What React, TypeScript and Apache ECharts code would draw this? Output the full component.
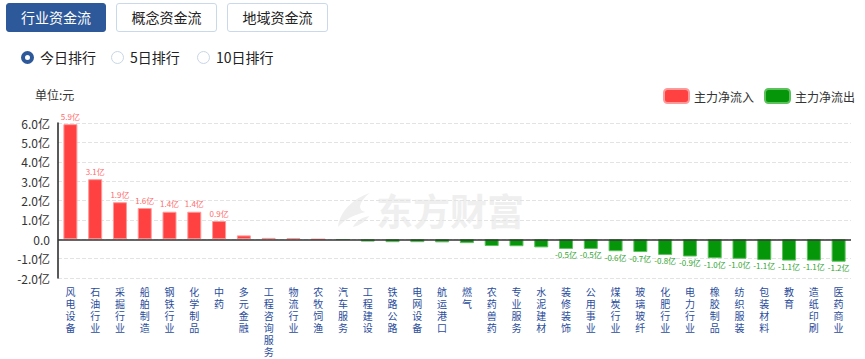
import React, { useEffect, useRef } from "react";
import * as echarts from "echarts";

const categories = [
  "风电设备", "石油行业", "采掘行业", "船舶制造", "钢铁行业", "化学制品", "中药", "多元金融",
  "工程咨询服务", "物流行业", "农牧饲渔", "汽车服务", "工程建设", "铁路公路", "电网设备", "航运港口",
  "燃气", "农药兽药", "专业服务", "水泥建材", "装修装饰", "公用事业", "煤炭行业", "玻璃玻纤",
  "化肥行业", "电力行业", "橡胶制品", "纺织服装", "包装材料", "教育", "造纸印刷", "医药商业",
];
const values = [
  5.94, 3.1, 1.91, 1.61, 1.42, 1.42, 0.94, 0.2, 0.07, 0.06, 0.0, -0.03, -0.12, -0.15, -0.15, -0.16,
  -0.2, -0.35, -0.36, -0.42, -0.5, -0.5, -0.62, -0.66, -0.81, -0.89, -0.98, -1.01, -1.07, -1.1, -1.1, -1.16,
];
const yTicks = { min: -2, max: 6, interval: 1 };
const tabs = ["行业资金流", "概念资金流", "地域资金流"];
const ranks = ["今日排行", "5日排行", "10日排行"];

const FONT = '"Noto Sans CJK SC", "Microsoft YaHei", sans-serif';
const RED = "#ff4141";
const GREEN = "#06960a";

function Chart() {
  const ref = useRef<HTMLDivElement>(null);
  useEffect(() => {
    if (!ref.current) return;
    const chart = echarts.init(ref.current, undefined, { renderer: "svg" });
    echarts.graphic.registerShape(
      "dfcfLogo",
      echarts.graphic.extendPath(
        "M30 0 C14 6 2 18 0 34 C6 27 14 22 26 19 C18 17 20 9 30 0 Z M14 34 C18 27 24 24 30 23 C26 28 22 32 14 34 Z",
        {}
      )
    );
    const inData = values.map((v) => (v >= 0 ? v : "-"));
    const outData = values.map((v) => (v < 0 ? v : "-"));
    const labelFmt = (p: any) => (Math.abs(p.value) >= 0.45 ? p.value.toFixed(1) + "亿" : "");
    chart.setOption({
      animation: false,
      textStyle: { fontFamily: FONT },
      grid: { left: 58, right: 14, top: 123, bottom: 81 },
      legend: {
        right: 10,
        top: 88,
        padding: 0,
        itemWidth: 25,
        itemHeight: 14,
        itemGap: 10,
        textStyle: { fontSize: 12, color: "#333", fontFamily: FONT },
        data: ["主力净流入", "主力净流出"],
      },
      graphic: [
        {
          type: "text",
          left: 35,
          top: 88,
          style: { text: "单位:元", fill: "#333", font: `12px ${FONT}` },
        },
        {
          type: "dfcfLogo",
          x: 338,
          y: 193,
          scaleX: 1.05,
          scaleY: 1.0,
          z: -1,
          style: { fill: "#efefef" },
        },
        {
          type: "text",
          x: 376,
          y: 191,
          z: -1,
          style: { text: "东方财富", fill: "#efefef", font: `bold 37px ${FONT}` },
        },
      ],
      xAxis: {
        type: "category",
        data: categories,
        axisLine: { show: false },
        axisTick: { show: false },
        axisLabel: {
          interval: 0,
          margin: 7,
          fontSize: 10,
          lineHeight: 12,
          color: "#2a4d9b",
          verticalAlign: "top",
          formatter: (s: string) => s.split("").join("\n"),
        },
      },
      yAxis: {
        type: "value",
        min: yTicks.min,
        max: yTicks.max,
        interval: yTicks.interval,
        axisLine: { show: true, lineStyle: { color: "#222", width: 1.5 } },
        axisTick: { show: false },
        axisLabel: {
          fontSize: 12,
          color: "#333",
          margin: 8,
          formatter: (v: number) => (v === 0 ? "0.0" : v.toFixed(1) + "亿"),
        },
        splitLine: { show: true, lineStyle: { color: "#e3e3e3", type: "dashed" } },
      },
      series: [
        {
          name: "主力净流入",
          type: "bar",
          data: inData,
          barWidth: 14,
          barGap: "-100%",
          itemStyle: { color: RED, borderColor: "#ff9a9a", borderWidth: 1 },
          label: {
            show: true,
            position: "top",
            distance: 4,
            fontSize: 8,
            color: "#ff6b6b",
            formatter: labelFmt,
          },
          markLine: {
            silent: true,
            symbol: "none",
            label: { show: false },
            lineStyle: { color: "#333", type: "solid", width: 1.5 },
            data: [{ yAxis: 0 }],
          },
        },
        {
          name: "主力净流出",
          type: "bar",
          data: outData,
          barWidth: 14,
          barGap: "-100%",
          itemStyle: { color: GREEN, borderColor: "#5cc05c", borderWidth: 1 },
          label: {
            show: true,
            position: "bottom",
            distance: 2,
            fontSize: 8,
            color: "#30a530",
            formatter: labelFmt,
          },
        },
      ],
    });
    return () => chart.dispose();
  }, []);
  return <div ref={ref} style={{ position: "absolute", left: 0, top: 0, width: 865, height: 359 }} />;
}

export default function App() {
  const tabLeft = [6, 116, 227];
  const radioX = [28, 118, 204];
  return (
    <div style={{ position: "absolute", left: 0, top: 0, width: 865, height: 359, background: "#fff", fontFamily: FONT, overflow: "hidden" }}>
      <Chart />
      {tabs.map((t, i) => (
        <div
          key={t}
          style={{
            position: "absolute",
            left: tabLeft[i],
            top: 3,
            width: i === 0 ? 100 : 101,
            height: 29,
            boxSizing: "border-box",
            borderRadius: 3,
            border: i === 0 ? "1px solid #2d5899" : "1px solid #c9d9ea",
            background: i === 0 ? "#2d5899" : "#fff",
            color: i === 0 ? "#fff" : "#222",
            fontSize: 14,
            lineHeight: "27px",
            textAlign: "center",
          }}
        >
          {t}
        </div>
      ))}
      {ranks.map((r, i) => (
        <div key={r} style={{ position: "absolute", left: radioX[i] - 7, top: 47, height: 20, display: "flex", alignItems: "center" }}>
          <span
            style={{
              display: "inline-block",
              width: 13,
              height: 13,
              boxSizing: "border-box",
              borderRadius: "50%",
              border: i === 0 ? "4.5px solid #2d5899" : "1px solid #c8d6e6",
              background: "#fff",
            }}
          />
          <span style={{ marginLeft: 6, fontSize: 14, color: "#222" }}>{r}</span>
        </div>
      ))}
    </div>
  );
}
